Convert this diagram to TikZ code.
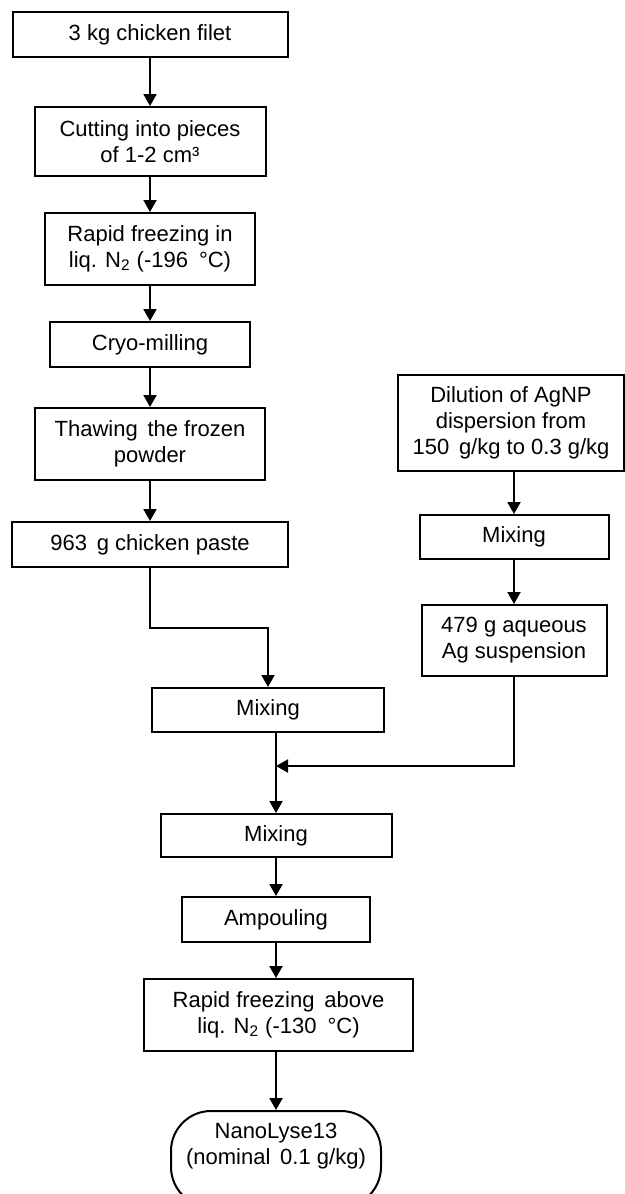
\documentclass[tikz,border=0pt]{standalone}
\usepackage{fontspec}
\setmainfont{Liberation Sans}
\usetikzlibrary{arrows.meta}

\tikzset{
  stage/.style={draw, line width=1pt, align=center, inner sep=0pt,
                font=\fontsize{11}{13}\selectfont},
  flow/.style={line width=1pt, -{Triangle[width=6.5pt,length=6pt]}},
}

\begin{document}
\begin{tikzpicture}[x=0.5pt, y=-0.5pt]
    \useasboundingbox (0,0) rectangle (625,1194);

    % chicken branch
    \node[stage, minimum width=137.5pt, minimum height=22.5pt] (filet) at (150,34.5) {3 kg chicken filet};
    \node[stage, minimum width=115.5pt, minimum height=34.5pt] (cut) at (150,141.5) {Cutting into pieces\\of 1-2 cm³};
    \node[stage, minimum width=105pt, minimum height=36pt] (freeze) at (150,249) {Rapid freezing in\\liq. N\textsubscript{2} (-196\enspace °C)};
    \node[stage, minimum width=100pt, minimum height=22.5pt] (cryo) at (150,344.5) {Cryo-milling};
    \node[stage, minimum width=115pt, minimum height=36pt] (thaw) at (150,444) {Thawing\, the frozen\\powder};
    \node[stage, minimum width=138pt, minimum height=22.5pt] (paste) at (150,544.5) {963\, g chicken paste};

    % silver branch
    \node[stage, minimum width=113pt, minimum height=48pt] (dilute) at (511,423) {Dilution of AgNP\\dispersion from\\150\, g/kg to 0.3 g/kg};
    \node[stage, minimum width=94.5pt, minimum height=22pt] (mixag) at (514,537) {Mixing};
    \node[stage, minimum width=92.5pt, minimum height=35.5pt] (agsusp) at (514,640.5) {479 g aqueous\\Ag suspension};

    % combined line
    \node[stage, minimum width=116pt, minimum height=22pt] (mixa) at (268,710) {Mixing};
    \node[stage, minimum width=115.5pt, minimum height=21.5pt] (mixb) at (276,835.5) {Mixing};
    \node[stage, minimum width=94pt, minimum height=22.5pt] (ampoule) at (276,919.5) {Ampouling};
    \node[stage, minimum width=134.5pt, minimum height=36pt] (freezeb) at (278.5,1015) {Rapid freezing\, above\\liq. N\textsubscript{2} (-130\enspace °C)};
    \node[stage, rounded corners=20pt, minimum width=105pt, minimum height=48pt, text depth=15.5pt] (nano) at (276,1159) {NanoLyse13\\(nominal\, 0.1 g/kg)};

    \coordinate (bend) at (150,628);
    \coordinate (join) at (276,766);

    \draw[flow] (filet) -- (cut);
    \draw[flow] (cut) -- (freeze);
    \draw[flow] (freeze) -- (cryo);
    \draw[flow] (cryo) -- (thaw);
    \draw[flow] (thaw) -- (paste);
    \draw[flow] (paste.south) -- (bend) -| (mixa.north);

    \draw[flow] (dilute.south -| mixag) -- (mixag);
    \draw[flow] (mixag) -- (agsusp);
    \draw[flow] (agsusp.south) |- (join);

    \draw[flow] (mixa.south -| join) -- (mixb.north -| join);
    \draw[flow] (mixb) -- (ampoule);
    \draw[flow] (ampoule) -- (freezeb.north -| ampoule);
    \draw[flow] (freezeb.south -| nano) -- (nano);
\end{tikzpicture}
\end{document}
